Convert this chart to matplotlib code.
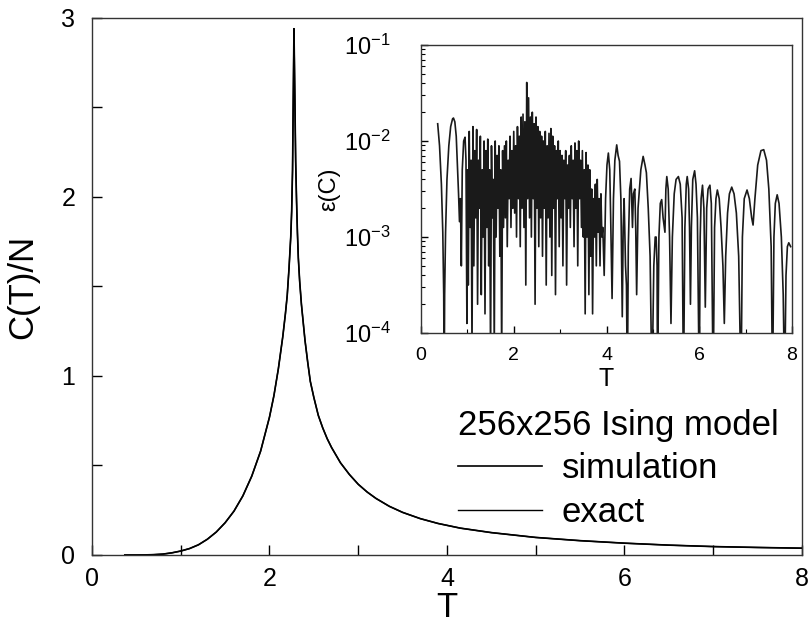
import numpy as np
import matplotlib
matplotlib.use("Agg")
import matplotlib.pyplot as plt

plt.rcParams['font.family'] = ['Liberation Sans', 'DejaVu Sans']
plt.rcParams['mathtext.fontset'] = 'custom'
plt.rcParams['mathtext.rm'] = 'Liberation Sans'
plt.rcParams['mathtext.it'] = 'Liberation Sans:italic'

# specific heat per spin
T_main = np.array([0.37, 0.5, 0.6, 0.7, 0.8, 0.9, 1.0, 1.1, 1.2, 1.3, 1.4, 1.5, 1.6, 1.7,
                   1.8, 1.9, 2.0, 2.05, 2.1, 2.15, 2.18, 2.2, 2.22, 2.24, 2.25, 2.26, 2.268,
                   2.276, 2.285, 2.295, 2.305, 2.315, 2.325, 2.34, 2.36, 2.38, 2.40, 2.43,
                   2.46, 2.5, 2.55, 2.6, 2.65, 2.7, 2.8, 2.9, 3.0, 3.1, 3.2, 3.35, 3.5, 3.7,
                   3.9, 4.15, 4.5, 5.0, 5.5, 6.0, 6.5, 7.0, 7.5, 8.0])
C_exact = np.array([0.0, 0.0, 0.0005, 0.002, 0.005, 0.012, 0.022, 0.036, 0.057, 0.088, 0.128,
                    0.18, 0.245, 0.33, 0.44, 0.58, 0.77, 0.89, 1.04, 1.22, 1.35, 1.45, 1.6,
                    1.78, 1.92, 2.15, 2.55, 2.94, 2.6, 2.2, 1.98, 1.8, 1.66, 1.53, 1.4, 1.3,
                    1.2, 1.08, 0.97, 0.88, 0.78, 0.71, 0.65, 0.6, 0.515, 0.45, 0.395, 0.352,
                    0.316, 0.272, 0.238, 0.203, 0.176, 0.15, 0.125, 0.098, 0.08, 0.066, 0.055,
                    0.047, 0.042, 0.038])
C_sim = C_exact.copy()  # the two curves overlap at this scale

# relative error, inset (log10 values)
T_low = [0.36, 0.40, 0.44, 0.47, 0.49, 0.50, 0.51, 0.53, 0.56, 0.60, 0.64, 0.68, 0.70,
         0.73, 0.76, 0.79, 0.81, 0.83, 0.85, 0.87, 0.89, 0.92, 0.95, 0.97, 0.99]
lg_low = [-1.82, -2.05, -2.45, -2.95, -3.6, -4.6, -3.6, -2.95, -2.4, -2.05, -1.85, -1.77, -1.76,
          -1.8, -1.95, -2.3, -2.55, -2.84, -2.6, -3.3, -2.3, -2.0, -1.96, -2.2, -3.9]

T_dense = np.round(np.arange(1.00, 3.91, 0.02), 2)
lg_dense = [
    -2.3, -3.5, -1.9, -2.9, -2.2, -4.2, -1.85, -3.3, -2.1, -2.8,
    -1.88, -3.7, -2.2, -2.7, -1.95, -3.6, -2.3, -3.0, -2.0, -3.8,
    -2.1, -2.9, -1.98, -3.3, -2.3, -4.3, -2.05, -2.8, -2.4, -4.2,
    -2.0, -3.0, -2.15, -2.7, -2.05, -3.2, -2.3, -4.3, -2.1, -2.9,
    -2.05, -2.8, -2.0, -3.1, -2.2, -2.6, -1.95, -2.9, -2.1, -2.7,
    -1.9, -2.75, -2.05, -3.0, -1.85, -2.6, -1.95, -3.1, -1.75, -2.7,
    -1.72, -2.9, -1.8, -3.5, -1.39, -2.6, -1.55, -2.8, -1.75, -3.0,
    -1.7, -2.6, -1.82, -3.7, -1.75, -2.7, -1.85, -3.1, -1.9, -2.8,
    -1.95, -3.2, -2.0, -2.7, -1.9, -3.5, -2.05, -2.8, -1.92, -3.0,
    -1.87, -3.4, -1.95, -2.7, -2.05, -3.6, -2.1, -2.6, -2.0, -3.1,
    -2.1, -2.8, -2.15, -3.3, -2.2, -2.6, -2.1, -3.5, -2.25, -2.7,
    -2.15, -2.9, -2.05, -2.6, -2.2, -3.1, -2.02, -2.7, -2.1, -3.3,
    -2.0, -2.6, -2.2, -2.9, -2.1, -3.0, -2.3, -3.8, -2.12, -3.0,
    -2.25, -3.6, -2.3, -3.2, -2.5, -3.8, -2.6, -3.0, -2.45, -3.3,
    -2.4, -2.95, -2.6, -3.3, -2.55, -3.0]

T_high = [3.92, 3.95, 3.98, 4.01, 4.04, 4.07, 4.09, 4.12, 4.15, 4.18, 4.22, 4.25, 4.28, 4.31,
          4.34, 4.36, 4.38, 4.41, 4.43, 4.45, 4.47, 4.50, 4.53, 4.56, 4.58, 4.61, 4.63, 4.65,
          4.68, 4.71, 4.74, 4.79, 4.83, 4.86, 4.90, 4.94, 4.98, 5.02, 5.05, 5.07, 5.09, 5.10,
          5.13, 5.16, 5.19, 5.22, 5.26, 5.28, 5.30, 5.33, 5.36, 5.39, 5.42, 5.46, 5.50, 5.55,
          5.59, 5.63, 5.66, 5.69, 5.72, 5.74, 5.77, 5.79, 5.81, 5.83, 5.86, 5.90, 5.93, 5.96,
          6.00, 6.02, 6.04, 6.07, 6.10, 6.13, 6.16, 6.19, 6.23, 6.26, 6.30, 6.33, 6.36, 6.39,
          6.43, 6.47, 6.51, 6.54, 6.57, 6.61, 6.65, 6.70, 6.75, 6.80, 6.85, 6.90, 6.93, 6.97,
          7.03, 7.08, 7.13, 7.16, 7.20, 7.26, 7.33, 7.39, 7.45, 7.50, 7.55, 7.58, 7.61, 7.64,
          7.68, 7.72, 7.77, 7.81, 7.84, 7.87, 7.90, 7.93, 7.97]
lg_high = [-2.9, -3.4, -2.6, -2.25, -2.125, -2.3, -2.8, -3.64, -2.6, -2.2, -2.04, -2.15, -2.21, -2.6,
           -3.83, -2.9, -2.6, -3.3, -3.5, -4.6, -3.1, -2.5, -2.39, -2.9, -2.55, -2.5, -2.9, -3.6,
           -2.7, -2.5, -2.3, -2.16, -2.25, -2.33, -2.7, -3.2, -4.6, -3.3, -3.0, -3.0, -3.3, -4.6,
           -3.0, -2.65, -2.61, -2.8, -2.95, -2.5, -2.37, -2.5, -3.0, -3.9, -3.0, -2.55, -2.4, -2.37,
           -2.45, -2.8, -4.6, -2.9, -2.45, -2.37, -2.5, -2.9, -3.7, -2.9, -2.4, -2.31, -2.45, -2.8,
           -4.6, -3.0, -2.6, -2.46, -2.7, -3.73, -2.7, -2.5, -2.46, -2.65, -4.6, -2.9, -2.6, -2.51,
           -2.6, -2.9, -3.3, -3.9, -3.2, -2.75, -2.55, -2.48, -2.55, -2.75, -3.2, -4.6, -3.0, -2.6,
           -2.51, -2.6, -2.8, -2.875, -2.6, -2.25, -2.1, -2.09, -2.2, -2.5, -3.1, -4.6, -3.0, -2.65,
           -2.56, -2.65, -3.0, -3.6, -4.6, -3.4, -3.1, -3.06, -3.1]

T_err = np.concatenate([T_low, T_dense, T_high])
err = 10.0 ** np.concatenate([lg_low, lg_dense, lg_high])

fig = plt.figure(figsize=(8.11, 6.24), dpi=100)
ax = fig.add_axes([0.1134, 0.1106, 0.8755, 0.8606])

ax.plot(T_main, C_sim, color='black', lw=1.2, label='simulation')
ax.plot(T_main, C_exact, color='black', lw=1.0, label='exact')
ax.set_xlim(0, 8)
ax.set_ylim(0, 3)
ax.set_xticks([0, 2, 4, 6, 8])
ax.set_xticks([1, 3, 5, 7], minor=True)
ax.set_yticks([0, 1, 2, 3])
ax.set_yticks([0.5, 1.5, 2.5], minor=True)
ax.tick_params(which='both', direction='in', labelsize=18, length=7, width=1)
ax.tick_params(axis='x', pad=9)
ax.tick_params(axis='y', pad=12)
ax.set_xlabel('T', fontsize=25, labelpad=0)
ax.set_ylabel('C(T)/N', fontsize=25, labelpad=16)
for s in ax.spines.values():
    s.set_linewidth(1.0)
    s.set_color('#333333')

leg = ax.legend(title='256x256 Ising model', loc='upper left', bbox_to_anchor=(0.516, 0.272),
                frameon=False, fontsize=25, title_fontsize=25, handlelength=2.4,
                handletextpad=0.58, labelspacing=0.3, borderpad=0, borderaxespad=0,
                alignment='left')

# inset with the relative error
ins = fig.add_axes([0.5191, 0.4663, 0.4575, 0.4615])
ins.plot(T_err, err, color='#1a1a1a', lw=1.2)
ins.set_yscale('log')
ins.set_xlim(0, 8)
ins.set_ylim(1e-4, 1e-1)
ins.set_xticks([0, 2, 4, 6, 8])
ins.set_xticks([1, 3, 5, 7], minor=True)
ins.tick_params(which='major', direction='in', length=5, width=1)
ins.tick_params(which='minor', direction='in', length=3, width=0.8)
ins.tick_params(axis='x', labelsize=14, pad=10)
ins.tick_params(axis='y', labelsize=17, pad=22)
ins.set_xlabel('T', fontsize=18, labelpad=2)
ins.set_ylabel('ε(C)', fontsize=17, labelpad=2)
for s in ins.spines.values():
    s.set_linewidth(1.0)
    s.set_color('#333333')

fig.savefig('out.png', dpi=100)
